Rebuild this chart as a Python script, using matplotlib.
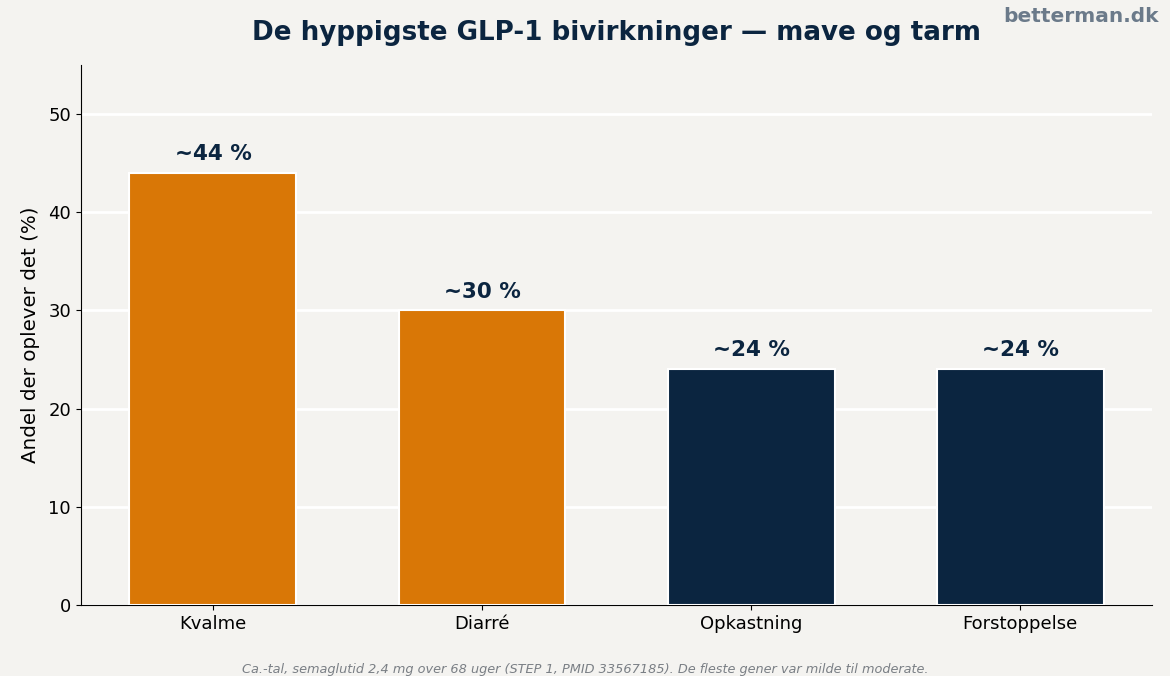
import matplotlib.pyplot as plt
import numpy as np

# bivirkninger og andel (%)
categories = ['Kvalme', 'Diarré', 'Opkastning', 'Forstoppelse']
values = [44, 30, 24, 24]
labels = ['~44 %', '~30 %', '~24 %', '~24 %']

orange = '#D97706'
navy = '#0B2540'
bg = '#F4F3F0'
colors = [orange, orange, navy, navy]

fig, ax = plt.subplots(figsize=(11.7, 6.76), dpi=100)
fig.patch.set_facecolor(bg)
ax.set_facecolor(bg)
fig.subplots_adjust(left=0.069, right=0.985, top=0.904, bottom=0.105)

x = np.arange(len(categories))
bars = ax.bar(x, values, width=0.62, color=colors, edgecolor='white', linewidth=1.5, zorder=3)

for xi, v, lab in zip(x, values, labels):
    ax.text(xi, v + 0.9, lab, ha='center', va='bottom', fontsize=15.5,
            fontweight='bold', color=navy)

ax.set_xticks(x)
ax.set_xticklabels(categories, fontsize=13)
ax.set_ylim(0, 55)
ax.set_yticks([0, 10, 20, 30, 40, 50])
ax.tick_params(axis='y', labelsize=13)
ax.set_ylabel('Andel der oplever det (%)', fontsize=14.3, labelpad=6)

ax.yaxis.grid(True, color='white', linewidth=2, zorder=0)
ax.set_axisbelow(True)
for s in ['top', 'right']:
    ax.spines[s].set_visible(False)

ax.set_title('De hyppigste GLP-1 bivirkninger — mave og tarm', fontsize=18.8,
             fontweight='bold', color=navy, pad=18)
fig.text(0.99, 0.99, 'betterman.dk', ha='right', va='top', fontsize=14.5,
         fontweight='bold', color='#6B7A8A')
fig.text(0.5, 0.0, 'Ca.-tal, semaglutid 2,4 mg over 68 uger (STEP 1, PMID 33567185). De fleste gener var milde til moderate.',
         ha='center', va='bottom', fontsize=9.3, style='italic', color='#7A7F85')

plt.savefig('out.png', dpi=100, facecolor=bg)
